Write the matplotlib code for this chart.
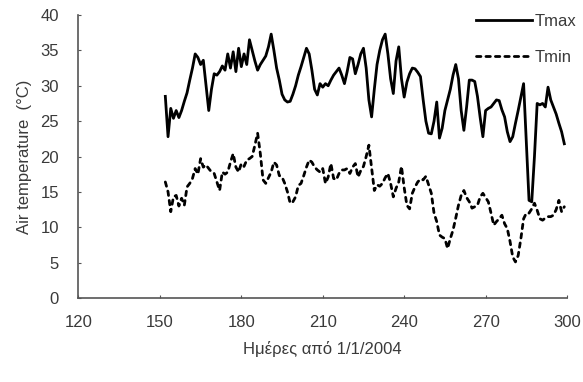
import matplotlib
matplotlib.use('Agg')
import matplotlib.pyplot as plt
import numpy as np

# daily max / min air temperature, day of year 152..299
days = np.arange(152, 300)

tmax = [28.5, 22.8, 26.8, 25.4, 26.5, 25.5, 26.5, 27.8, 29.0, 30.8,
        32.5, 34.5, 34.0, 33.0, 33.6, 30.0, 26.5, 29.5, 31.7, 31.5,
        32.0, 32.8, 32.2, 34.5, 32.5, 34.8, 32.0, 35.3, 32.7, 34.5,
        33.0, 36.5, 35.0, 33.5, 32.2, 33.0, 33.6, 34.2, 35.5, 37.3,
        35.0, 32.5, 30.8, 28.8, 28.0, 27.7, 27.8, 28.8, 30.0, 31.5,
        32.7, 34.0, 35.3, 34.5, 32.2, 29.5, 28.7, 30.3, 29.8, 30.3,
        30.0, 30.8, 31.5, 32.0, 32.5, 31.5, 30.3, 32.0, 34.0, 33.8,
        31.7, 33.0, 34.5, 35.3, 32.5, 28.0, 25.6, 29.5, 33.0, 35.0,
        36.5, 37.3, 34.5, 31.0, 28.9, 33.5, 35.5, 31.0, 28.4, 30.5,
        31.7, 32.5, 32.4, 31.9, 31.3, 28.0, 25.0, 23.3, 23.2, 25.0,
        27.7, 22.6, 24.0, 26.5, 28.0, 29.5, 31.5, 33.0, 31.0, 26.5,
        23.7, 27.0, 30.8, 30.8, 30.6, 28.5, 25.5, 22.8, 26.5, 26.8,
        27.0, 27.5, 28.0, 27.9, 26.6, 25.6, 23.5, 22.1, 22.8, 24.7,
        26.5, 28.4, 30.3, 22.0, 13.8, 13.6, 20.0, 27.5, 27.3, 27.5,
        27.0, 29.8, 28.0, 27.0, 26.0, 24.7, 23.5, 21.8]

tmin = [16.4, 15.0, 12.2, 14.3, 14.5, 13.0, 14.1, 13.1, 15.7, 16.2,
        16.9, 18.3, 17.5, 19.7, 18.5, 18.8, 18.3, 17.8, 17.6, 16.4,
        15.2, 17.8, 17.5, 17.8, 19.2, 20.4, 18.5, 17.8, 19.0, 18.6,
        19.5, 19.7, 20.0, 21.6, 23.3, 20.4, 16.7, 16.2, 17.0, 17.8,
        19.2, 18.8, 17.3, 17.1, 16.2, 15.0, 13.4, 13.6, 14.3, 15.9,
        16.2, 17.3, 18.5, 19.5, 19.2, 18.5, 18.1, 17.8, 18.3, 16.2,
        17.1, 19.0, 16.9, 16.7, 17.6, 18.1, 18.1, 18.3, 17.6, 18.5,
        19.0, 17.1, 18.0, 18.6, 20.0, 21.6, 18.4, 15.2, 16.0, 15.8,
        16.2, 17.0, 17.6, 16.2, 14.3, 15.5, 16.4, 18.6, 15.6, 13.1,
        12.6, 14.8, 15.7, 16.4, 16.8, 16.7, 17.2, 16.0, 14.8, 12.0,
        10.8, 8.9, 8.6, 8.4, 7.0, 8.4, 9.6, 11.3, 13.1, 14.5,
        15.2, 14.2, 13.6, 12.7, 12.9, 13.1, 14.3, 14.8, 14.2, 13.6,
        12.0, 10.3, 10.8, 11.2, 11.7, 10.5, 9.8, 8.0, 5.8, 5.1,
        6.0, 8.4, 11.2, 12.0, 12.0, 12.6, 13.4, 12.4, 11.2, 11.0,
        11.3, 11.5, 11.5, 11.7, 12.5, 13.8, 12.2, 12.9]

xticks = [120, 150, 180, 210, 240, 270, 300]
yticks = [0, 5, 10, 15, 20, 25, 30, 35, 40]

plt.rcParams['font.family'] = ['Liberation Sans', 'DejaVu Sans']
txt = '#3a3a3a'

fig = plt.figure(figsize=(5.83, 3.82), dpi=100)
ax = fig.add_axes([0.1346, 0.2199, 0.838, 0.7408])

ax.plot(days, tmax, color='black', lw=2.0, solid_joinstyle='round',
        label='Tmax')
ax.plot(days, tmin, color='black', lw=2.0, ls=(0, (1.6, 1.8)),
        dash_capstyle='round', label='Tmin')

ax.set_xlim(120, 300)
ax.set_ylim(0, 40)
ax.set_xticks(xticks)
ax.set_yticks(yticks)
ax.tick_params(direction='in', length=2, width=0.8, colors='#555555',
               labelcolor=txt, labelsize=12)
ax.tick_params(axis='x', pad=12)
ax.tick_params(axis='y', pad=14)

for s in ['top', 'right']:
    ax.spines[s].set_visible(False)
for s in ['left', 'bottom']:
    ax.spines[s].set_color('#555555')
    ax.spines[s].set_linewidth(1.2)

ax.set_xlabel('Ημέρες από 1/1/2004', fontsize=12, color=txt, labelpad=8)
ax.set_ylabel('Air temperature  (°C)', fontsize=12, color=txt, labelpad=6)

leg = ax.legend(loc='upper right', bbox_to_anchor=(1.04, 1.04), frameon=False,
                fontsize=12, handlelength=3.4, handletextpad=0.15,
                labelspacing=1.25, borderaxespad=0.2)
for t in leg.get_texts():
    t.set_color(txt)

fig.savefig('out.png', dpi=100)
